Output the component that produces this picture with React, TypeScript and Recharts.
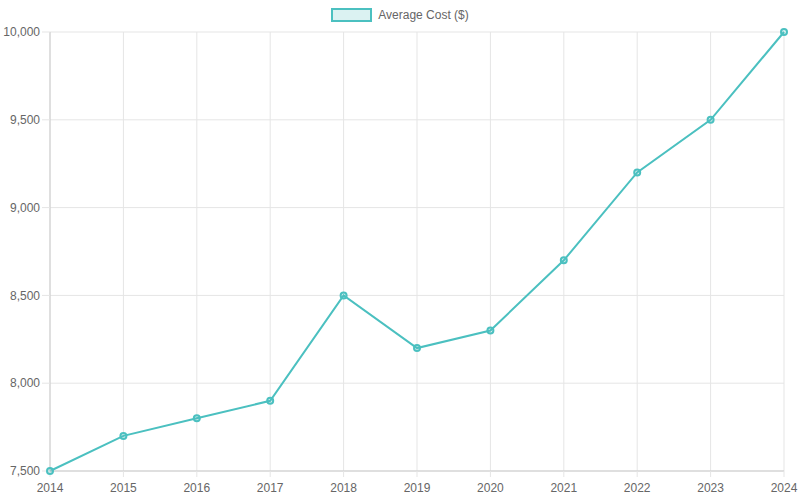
import React from 'react';
import { LineChart, Line, XAxis, YAxis, CartesianGrid } from 'recharts';

const years = ['2014', '2015', '2016', '2017', '2018', '2019', '2020', '2021', '2022', '2023', '2024'];
const averageCost = [7500, 7700, 7800, 7900, 8500, 8200, 8300, 8700, 9200, 9500, 10000];
const yTicks = [7500, 8000, 8500, 9000, 9500, 10000];

const data = years.map((year, i) => ({ year, cost: averageCost[i] }));

const TEAL = 'rgb(75, 192, 192)';
const FONT = '"Liberation Sans", Arial, sans-serif';

// legend drawn as plain html so it does not take space from the plot
const LegendBox = () => (
  <div
    style={{
      position: 'absolute',
      top: 8,
      left: 0,
      width: 800,
      display: 'flex',
      justifyContent: 'center',
      alignItems: 'center',
      fontFamily: FONT,
      fontSize: 12,
      color: '#666',
    }}
  >
    <span
      style={{
        display: 'inline-block',
        width: 37,
        height: 10,
        background: 'rgba(75, 192, 192, 0.2)',
        border: `2px solid ${TEAL}`,
        marginRight: 6,
      }}
    />
    <span>Average Cost ($)</span>
  </div>
);

export default function App() {
  return (
    <div style={{ position: 'absolute', left: 0, top: 0, width: 800, height: 500, background: '#fff' }}>
      <LineChart width={800} height={500} data={data} margin={{ top: 32, right: 16, bottom: 0, left: 0 }}>
        <CartesianGrid stroke="#e5e5e5" strokeWidth={1} />
        <XAxis
          dataKey="year"
          interval={0}
          height={29}
          tick={{ fill: '#666', fontSize: 12, fontFamily: FONT }}
          tickLine={{ stroke: '#e5e5e5' }}
          tickSize={6}
          tickMargin={6}
          axisLine={{ stroke: '#ccc' }}
        />
        <YAxis
          domain={[7500, 10000]}
          ticks={yTicks}
          width={50}
          tick={{ fill: '#666', fontSize: 12, fontFamily: FONT }}
          tickFormatter={(v: number) => v.toLocaleString('en-US')}
          tickLine={{ stroke: '#e5e5e5' }}
          tickSize={8}
          axisLine={{ stroke: '#ccc' }}
        />
        <Line
          type="linear"
          dataKey="cost"
          name="Average Cost ($)"
          stroke={TEAL}
          strokeWidth={2}
          dot={{ r: 3, fill: 'rgba(75, 192, 192, 0.2)', stroke: TEAL, strokeWidth: 2 }}
          isAnimationActive={false}
        />
      </LineChart>
      <LegendBox />
    </div>
  );
}
